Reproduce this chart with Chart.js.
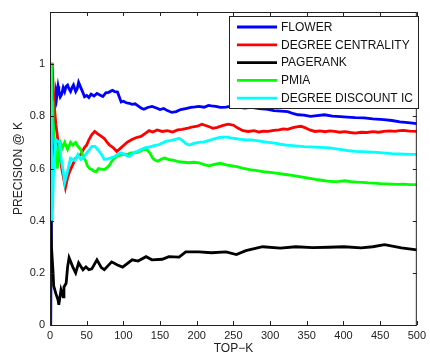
<!DOCTYPE html>
<html>
<head>
  <title>Precision @ K</title>
  <script src="https://cdn.jsdelivr.net/npm/chart.js"></script>
  <style>
    body {
      margin: 0;
      background-color: #ffffff;
    }
  </style>
</head>
<body>
  <canvas id="grafico" width="430" height="356"></canvas>

  <script>
    // curvas: valor de K e precisao correspondente
    var flowerK = [1, 2, 4, 6, 8, 9, 11, 12, 14, 16, 18, 20, 22, 24, 26, 28, 30, 32, 35, 37, 39, 42, 45, 47, 50, 53, 56, 60, 64, 68, 72, 76, 80, 85, 88, 92, 95, 97, 100, 104, 108, 112, 116, 120, 124, 128, 133, 139, 145, 150, 155, 160, 166, 172, 178, 185, 192, 198, 203, 210, 216, 220, 226, 232, 240, 248, 256, 265, 275, 285, 297, 305, 315, 324, 332, 338, 346, 355, 364, 374, 385, 396, 405, 416, 428, 440, 455, 466, 477, 488, 500];
    var flowerP = [0, 0.5, 0.75, 0.83, 0.89, 0.87, 0.915, 0.9, 0.875, 0.885, 0.91, 0.895, 0.915, 0.92, 0.905, 0.895, 0.91, 0.92, 0.895, 0.905, 0.93, 0.91, 0.89, 0.875, 0.88, 0.872, 0.885, 0.878, 0.888, 0.882, 0.876, 0.89, 0.892, 0.9, 0.895, 0.893, 0.87, 0.855, 0.858, 0.852, 0.85, 0.846, 0.848, 0.84, 0.832, 0.827, 0.834, 0.838, 0.832, 0.826, 0.83, 0.822, 0.815, 0.818, 0.826, 0.83, 0.834, 0.836, 0.838, 0.835, 0.842, 0.84, 0.838, 0.834, 0.835, 0.84, 0.836, 0.832, 0.834, 0.83, 0.827, 0.822, 0.82, 0.818, 0.81, 0.806, 0.805, 0.8, 0.803, 0.806, 0.801, 0.799, 0.797, 0.795, 0.794, 0.79, 0.787, 0.784, 0.779, 0.776, 0.772];

    var grauK = [1, 3, 5, 8, 12, 16, 21, 24, 27, 31, 35, 42, 47, 50, 53, 57, 61, 65, 70, 74, 78, 81, 86, 91, 97, 101, 105, 111, 117, 124, 130, 135, 140, 146, 153, 160, 167, 174, 180, 188, 195, 201, 207, 212, 217, 222, 228, 236, 243, 250, 256, 263, 270, 278, 285, 291, 297, 305, 312, 318, 324, 330, 336, 342, 348, 354, 361, 368, 375, 381, 388, 395, 402, 409, 416, 424, 432, 440, 448, 455, 463, 470, 476, 482, 490, 500];
    var grauP = [1, 1, 0.87, 0.77, 0.68, 0.6, 0.527, 0.565, 0.59, 0.615, 0.64, 0.654, 0.68, 0.69, 0.71, 0.73, 0.742, 0.733, 0.723, 0.715, 0.7, 0.69, 0.68, 0.665, 0.68, 0.69, 0.7, 0.71, 0.718, 0.723, 0.735, 0.745, 0.74, 0.748, 0.742, 0.745, 0.74, 0.748, 0.75, 0.755, 0.76, 0.762, 0.77, 0.765, 0.76, 0.754, 0.758, 0.765, 0.77, 0.766, 0.755, 0.745, 0.742, 0.745, 0.74, 0.743, 0.742, 0.746, 0.748, 0.752, 0.75, 0.756, 0.76, 0.762, 0.756, 0.748, 0.742, 0.744, 0.741, 0.744, 0.742, 0.739, 0.741, 0.738, 0.736, 0.739, 0.738, 0.741, 0.739, 0.742, 0.744, 0.742, 0.745, 0.746, 0.743, 0.742];

    var pagerankK = [1, 2, 4, 5, 8, 11, 12, 15, 18, 19, 22, 24, 26, 31, 35, 39, 45, 49, 53, 57, 64, 70, 74, 84, 92, 99, 112, 120, 131, 139, 153, 162, 176, 185, 203, 220, 240, 254, 267, 290, 314, 335, 358, 380, 401, 424, 440, 456, 479, 500];
    var pagerankP = [0.48, 0.3, 0.21, 0.15, 0.12, 0.096, 0.077, 0.135, 0.108, 0.146, 0.16, 0.223, 0.258, 0.223, 0.2, 0.238, 0.212, 0.223, 0.212, 0.215, 0.25, 0.22, 0.212, 0.242, 0.23, 0.222, 0.25, 0.245, 0.262, 0.25, 0.252, 0.262, 0.26, 0.28, 0.28, 0.277, 0.28, 0.27, 0.285, 0.3, 0.295, 0.3, 0.297, 0.298, 0.3, 0.296, 0.3, 0.308, 0.296, 0.288];

    var pmiaK = [1, 2, 3, 4, 6, 8, 10, 12, 14, 17, 20, 24, 28, 31, 35, 38, 42, 45, 49, 51, 54, 57, 60, 63, 66, 70, 74, 78, 81, 84, 88, 92, 97, 102, 105, 110, 115, 119, 124, 127, 132, 136, 140, 143, 147, 152, 156, 162, 168, 175, 182, 189, 196, 203, 210, 217, 224, 232, 240, 248, 256, 264, 272, 280, 290, 297, 305, 313, 321, 330, 338, 346, 354, 362, 370, 378, 386, 394, 402, 410, 418, 426, 434, 442, 450, 458, 466, 474, 482, 490, 500];
    var pmiaP = [1, 1, 0.86, 0.79, 0.7, 0.66, 0.6, 0.68, 0.7, 0.68, 0.7, 0.673, 0.7, 0.69, 0.7, 0.685, 0.673, 0.646, 0.627, 0.61, 0.6, 0.596, 0.59, 0.588, 0.6, 0.598, 0.596, 0.604, 0.612, 0.627, 0.64, 0.648, 0.652, 0.655, 0.654, 0.66, 0.66, 0.662, 0.668, 0.673, 0.672, 0.66, 0.64, 0.632, 0.628, 0.636, 0.64, 0.634, 0.632, 0.626, 0.624, 0.622, 0.624, 0.622, 0.615, 0.61, 0.616, 0.62, 0.614, 0.61, 0.606, 0.6, 0.596, 0.593, 0.588, 0.586, 0.583, 0.58, 0.577, 0.574, 0.57, 0.566, 0.562, 0.558, 0.555, 0.552, 0.55, 0.551, 0.553, 0.55, 0.548, 0.547, 0.545, 0.544, 0.542, 0.541, 0.54, 0.539, 0.54, 0.538, 0.538];

    var descontoK = [1, 2, 3, 5, 8, 13, 15, 18, 20, 24, 28, 34, 38, 42, 45, 47, 50, 54, 57, 61, 65, 70, 74, 78, 82, 88, 92, 97, 101, 105, 108, 111, 115, 119, 124, 130, 135, 142, 149, 153, 158, 165, 171, 176, 181, 186, 190, 196, 203, 210, 217, 224, 230, 236, 242, 248, 254, 260, 267, 274, 282, 290, 298, 306, 314, 322, 330, 338, 346, 354, 362, 370, 381, 390, 400, 408, 416, 424, 432, 440, 449, 458, 466, 474, 482, 490, 500];
    var descontoP = [1, 0.7, 0.4, 0.6, 0.71, 0.7, 0.64, 0.59, 0.546, 0.59, 0.64, 0.63, 0.654, 0.635, 0.64, 0.646, 0.66, 0.673, 0.685, 0.685, 0.673, 0.655, 0.635, 0.636, 0.64, 0.646, 0.655, 0.66, 0.655, 0.648, 0.646, 0.652, 0.662, 0.666, 0.673, 0.68, 0.682, 0.688, 0.692, 0.698, 0.704, 0.708, 0.712, 0.716, 0.706, 0.694, 0.69, 0.696, 0.7, 0.702, 0.708, 0.714, 0.718, 0.72, 0.72, 0.716, 0.714, 0.712, 0.71, 0.71, 0.707, 0.703, 0.7, 0.697, 0.693, 0.69, 0.688, 0.686, 0.684, 0.683, 0.682, 0.681, 0.679, 0.675, 0.671, 0.668, 0.666, 0.665, 0.664, 0.663, 0.661, 0.659, 0.657, 0.656, 0.655, 0.654, 0.654];

    var nomes = ["FLOWER", "DEGREE CENTRALITY", "PAGERANK", "PMIA", "DEGREE DISCOUNT IC"];
    var cores = ["#0000ff", "#ff0000", "#000000", "#00ff00", "#00ffff"];
    var ticksX = [0, 50, 100, 150, 200, 250, 300, 350, 400, 450, 500];
    var ticksY = [0, 0.2, 0.4, 0.6, 0.8, 1];

    function pares(ks, ps) {
      var out = [];
      for (var i = 0; i < ks.length; i++) out.push({ x: ks[i], y: ps[i] });
      return out;
    }

    var series = [
      pares(flowerK, flowerP),
      pares(grauK, grauP),
      pares(pagerankK, pagerankP),
      pares(pmiaK, pmiaP),
      pares(descontoK, descontoP)
    ];

    var datasets = series.map(function (d, i) {
      return {
        label: nomes[i],
        data: d,
        borderColor: cores[i],
        backgroundColor: cores[i],
        borderWidth: 2.8,
        pointRadius: 0,
        tension: 0,
        order: nomes.length - i
      };
    });

    var fonte = "'Liberation Sans', Arial, sans-serif";

    // caixa do eixo, marcas para dentro e legenda no canto
    var molduraPlugin = {
      id: "moldura",
      afterDraw: function (chart) {
        var ctx = chart.ctx;
        var a = chart.chartArea;
        var xs = chart.scales.x;
        var ys = chart.scales.y;
        ctx.save();
        ctx.strokeStyle = "#222";
        ctx.lineWidth = 1;
        ctx.strokeRect(a.left + 0.5, a.top + 0.5, a.right - a.left - 1, a.bottom - a.top);
        ctx.beginPath();
        ticksX.forEach(function (v) {
          var px = Math.round(xs.getPixelForValue(v)) + 0.5;
          ctx.moveTo(px, a.bottom); ctx.lineTo(px, a.bottom - 4);
          ctx.moveTo(px, a.top); ctx.lineTo(px, a.top + 4);
        });
        ys.ticks.forEach(function (t) {
          var py = Math.round(ys.getPixelForValue(t.value)) + 0.5;
          ctx.moveTo(a.left, py); ctx.lineTo(a.left + 4, py);
          ctx.moveTo(a.right, py); ctx.lineTo(a.right - 4, py);
        });
        ctx.stroke();

        var bx = 229, by = 16, bw = 189, bh = 92;
        ctx.fillStyle = "#ffffff";
        ctx.fillRect(bx, by, bw, bh);
        ctx.strokeStyle = "#222";
        ctx.strokeRect(bx + 0.5, by + 0.5, bw, bh);
        ctx.font = "12px " + fonte;
        ctx.textBaseline = "middle";
        chart.data.datasets.forEach(function (ds, i) {
          var y = 27 + i * 17.8;
          ctx.strokeStyle = ds.borderColor;
          ctx.lineWidth = 2.8;
          ctx.beginPath();
          ctx.moveTo(237, y); ctx.lineTo(277, y);
          ctx.stroke();
          ctx.fillStyle = "#111";
          ctx.fillText(ds.label, 281, y + 0.5);
        });
        ctx.restore();
      }
    };

    var ctx = document.getElementById("grafico").getContext("2d");
    var chart = new Chart(ctx, {
      type: "line",
      data: { datasets: datasets },
      options: {
        responsive: false,
        animation: false,
        layout: { padding: { top: 12, right: 10, left: 0, bottom: 0 } },
        plugins: {
          legend: { display: false },
          tooltip: { enabled: false }
        },
        scales: {
          x: {
            type: "linear",
            min: 0,
            max: 500,
            afterFit: function (s) { s.height = 31; },
            afterBuildTicks: function (s) {
              s.ticks = ticksX.map(function (v) { return { value: v }; });
            },
            grid: { display: false, drawTicks: false },
            border: { display: false },
            ticks: {
              padding: 4,
              maxRotation: 0,
              color: "#222",
              font: { family: fonte, size: 11 }
            },
            title: {
              display: true,
              text: "TOP\u2212K",
              color: "#222",
              padding: 0,
              font: { family: fonte, size: 12 }
            }
          },
          y: {
            min: 0,
            max: 1.2,
            afterFit: function (s) { s.width = 50; },
            afterBuildTicks: function (s) {
              s.ticks = ticksY.map(function (v) { return { value: v }; });
            },
            grid: { display: false, drawTicks: false },
            border: { display: false },
            ticks: {
              padding: 5,
              color: "#222",
              font: { family: fonte, size: 11 },
              callback: function (v) { return String(Math.round(v * 10) / 10); }
            },
            title: {
              display: true,
              text: "PRECISION @ K",
              color: "#222",
              padding: { top: 11, bottom: 0 },
              font: { family: fonte, size: 12 }
            }
          }
        }
      },
      plugins: [molduraPlugin]
    });
  </script>
</body>
</html>
